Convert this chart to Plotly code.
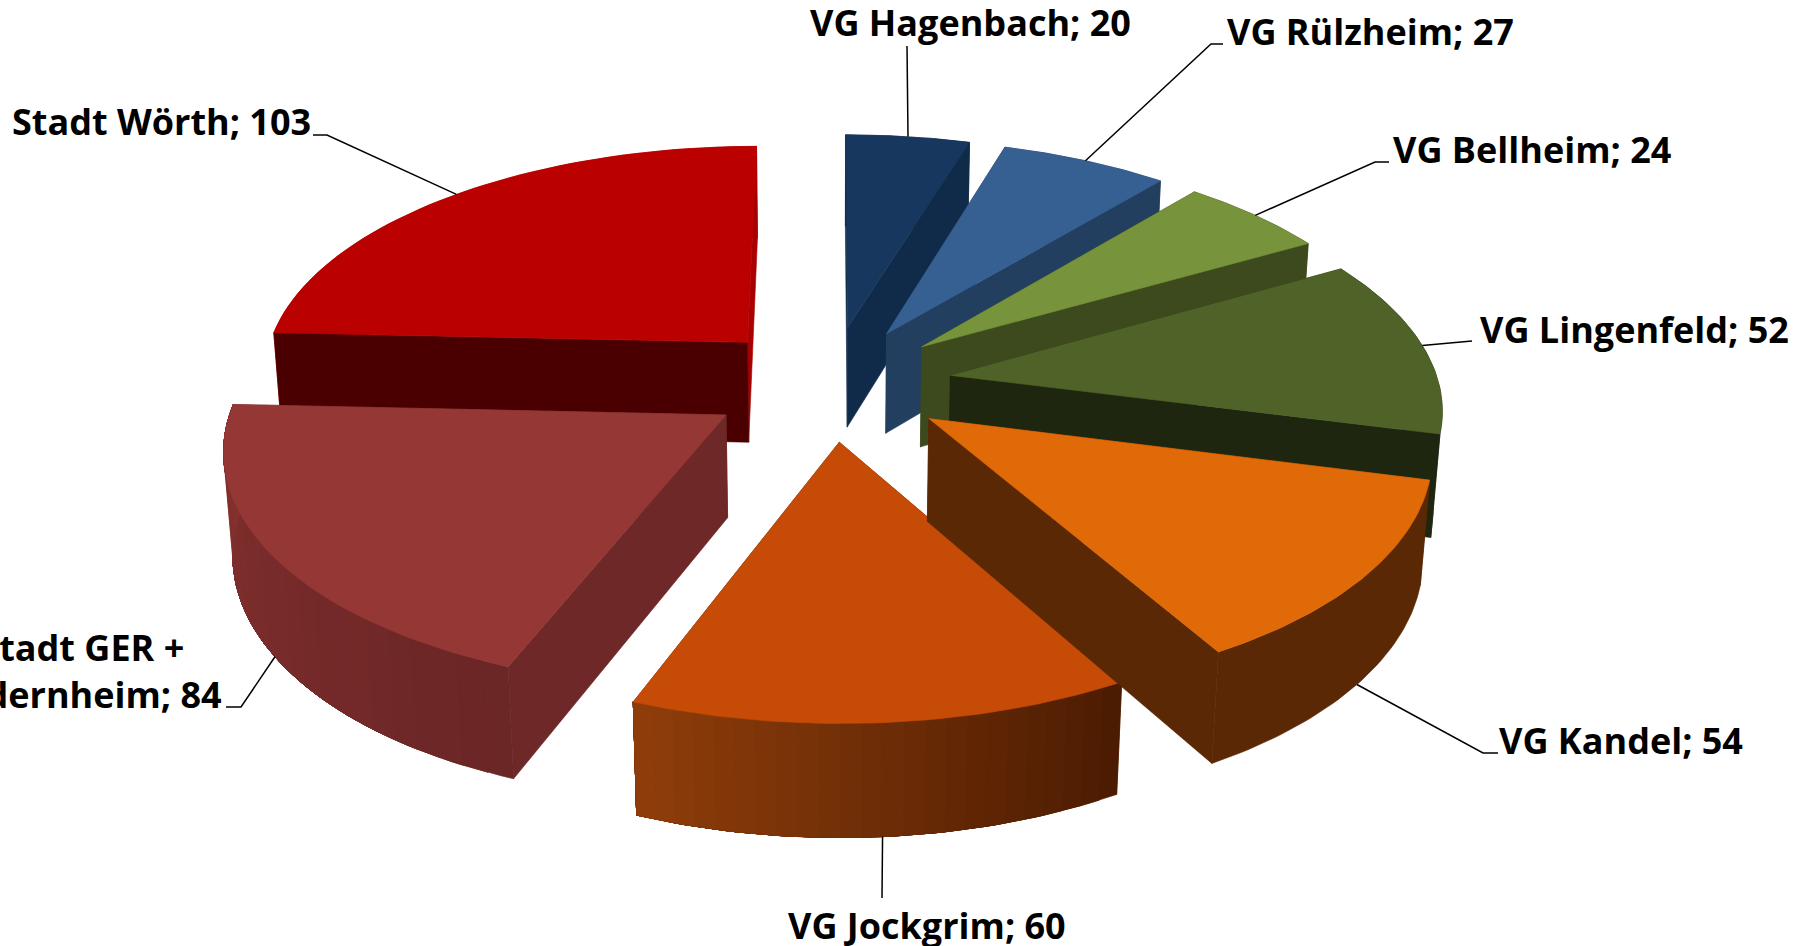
import math
import plotly.graph_objects as go

# --- data ---
categories = ["VG Hagenbach", "VG Rülzheim", "VG Bellheim", "VG Lingenfeld",
              "VG Kandel", "VG Jockgrim", "Stadt GER +<br>Südernheim", "Stadt Wörth"]
values = [20, 27, 24, 52, 54, 60, 84, 103]

# --- styles ---
top_colors = ["#17375e", "#376092", "#77933c", "#4f6228", "#e06a08", "#c64b06", "#953735", "#bb0000"]
first_cut_colors = ["#102a4a", "#233f60", "#3c4a1d", "#1e2610", "#5a2804", "#5a2804", "#6e2828", "#4a0000"]
last_cut_colors = ["#102a4a", "#233f60", "#3c4a1d", "#1e2610", "#5a2804", "#5a2804", "#6e2828", "#a80000"]
rim_start = ["#102a4a", "#233f60", "#3c4a1d", "#1e2610", "#5a2804", "#4c1c02", "#6b2626", "#a80000"]
rim_end = ["#102a4a", "#233f60", "#3c4a1d", "#1e2610", "#5a2804", "#8e3d0a", "#84302f", "#a80000"]
paint_order = [0, 1, 2, 7, 3, 5, 4, 6]

# --- projection of the tilted, exploded pie onto the page (pixels) ---
CX, CY, AX, BY, HZ, PERSP, PERSP_Z, EXPLODE = 830, 383, 488, 230, 103, 0.125, 0.015, 0.25
FONT = dict(family="Open Sans", size=36, color="#000000")


def project(x, y, z=0):
    w = 1 + PERSP * y + PERSP_Z * z
    return CX + AX * x / w, CY + (-BY * y + HZ * z) / w


total = sum(values)
angles = []
acc = 0
for v in values:
    angles.append((acc / total * 2 * math.pi, (acc + v) / total * 2 * math.pi))
    acc += v


def apex(i):
    mid = sum(angles[i]) / 2
    return EXPLODE * math.sin(mid), EXPLODE * math.cos(mid)


def rim(i, t):
    ax, ay = apex(i)
    return ax + math.sin(t), ay + math.cos(t)


def arc(i, n=48):
    a, b = angles[i]
    return [a + (b - a) * k / n for k in range(n + 1)]


def mix(c1, c2, f):
    p = [int(c1[k:k + 2], 16) for k in (1, 3, 5)]
    q = [int(c2[k:k + 2], 16) for k in (1, 3, 5)]
    return "#%02x%02x%02x" % tuple(round(u + (v - u) * f) for u, v in zip(p, q))


fig = go.Figure()


def poly(pts, color, width=0.6):
    xs = [p[0] for p in pts] + [pts[0][0]]
    ys = [p[1] for p in pts] + [pts[0][1]]
    fig.add_trace(go.Scatter(x=xs, y=ys, mode="lines", fill="toself", fillcolor=color,
                             line=dict(color=color, width=width),
                             hoverinfo="skip", showlegend=False))


def quad3d(p, q, color):
    poly([project(*p, 0), project(*q, 0), project(*q, 1), project(*p, 1)], color)


def wall(i, ts, color):
    """Outer wall between the angles ts, as one closed outline."""
    upper = [project(*rim(i, t), 0) for t in ts]
    lower = [project(*rim(i, t), 1) for t in reversed(ts)]
    poly(upper + lower, color)


def draw_rim(i):
    ts = arc(i, 48)
    if rim_start[i] == rim_end[i]:
        wall(i, ts, rim_start[i])
        return
    bands = 24
    step = (len(ts) - 1) // bands
    for k in range(bands):
        # bands overlap each other so no seams show
        wall(i, ts[k * step:], mix(rim_start[i], rim_end[i], k / (bands - 1)))


def draw_cuts(i):
    a, b = angles[i]
    ap = apex(i)
    if math.sin((a + b) / 2) > 0:
        quad3d(ap, rim(i, a), first_cut_colors[i])
        quad3d(ap, rim(i, b), last_cut_colors[i])
    else:
        quad3d(ap, rim(i, b), last_cut_colors[i])
        quad3d(ap, rim(i, a), first_cut_colors[i])


for i in paint_order:
    a, b = angles[i]
    # slices at the back show their cut face over the wall, front slices the wall over the cut
    if math.cos((a + b) / 2) > 0:
        draw_rim(i)
        draw_cuts(i)
    else:
        draw_cuts(i)
        draw_rim(i)
    poly([project(*apex(i))] + [project(*rim(i, t)) for t in arc(i)], top_colors[i])

# --- leader lines ---
leader_ends = [[(907, 46)], [(1211, 44), (1223, 44)], [(1375, 162), (1389, 162)], [(1472, 341)],
               [(1483, 753), (1498, 753)], [(882, 898)], [(241, 707), (226, 707)], [(327, 135), (313, 135)]]
leader_depth = [0, 0, 0, 0, 1, 1, 1, 0]
leader_frac = [0.5, 0.5, 0.5, 0.5, 0.5, 0.5, 0.52, 0.51]
for i, ends in enumerate(leader_ends):
    t = angles[i][0] + (angles[i][1] - angles[i][0]) * leader_frac[i]
    pts = [project(*rim(i, t), leader_depth[i])] + ends
    fig.add_trace(go.Scatter(x=[p[0] for p in pts], y=[p[1] for p in pts], mode="lines",
                             line=dict(color="#000000", width=1.5),
                             hoverinfo="skip", showlegend=False))

# --- labels ---
label_pos = [(808, 22, "left"), (1225, 31, "left"), (1391, 149, "left"), (1478, 329, "left"),
             (1497, 740, "left"), (927, 925, "center"), (224, 671, "right"), (313, 121, "right")]
for name, v, (x, y, anchor) in zip(categories, values, label_pos):
    fig.add_annotation(x=x, y=y, xref="x", yref="y", text=f"<b>{name}; {v}</b>", showarrow=False,
                       xanchor=anchor, yanchor="middle", align="center", font=FONT)

fig.update_layout(
    width=1800, height=946, autosize=False,
    margin=dict(l=0, r=0, t=0, b=0),
    paper_bgcolor="#ffffff", plot_bgcolor="#ffffff", showlegend=False,
    xaxis=dict(range=[0, 1800], visible=False, fixedrange=True),
    yaxis=dict(range=[946, 0], visible=False, fixedrange=True),
)
fig.write_html("out.html", config={"displayModeBar": False},
               post_script="document.body.style.margin='0';document.documentElement.style.overflow='hidden';")
